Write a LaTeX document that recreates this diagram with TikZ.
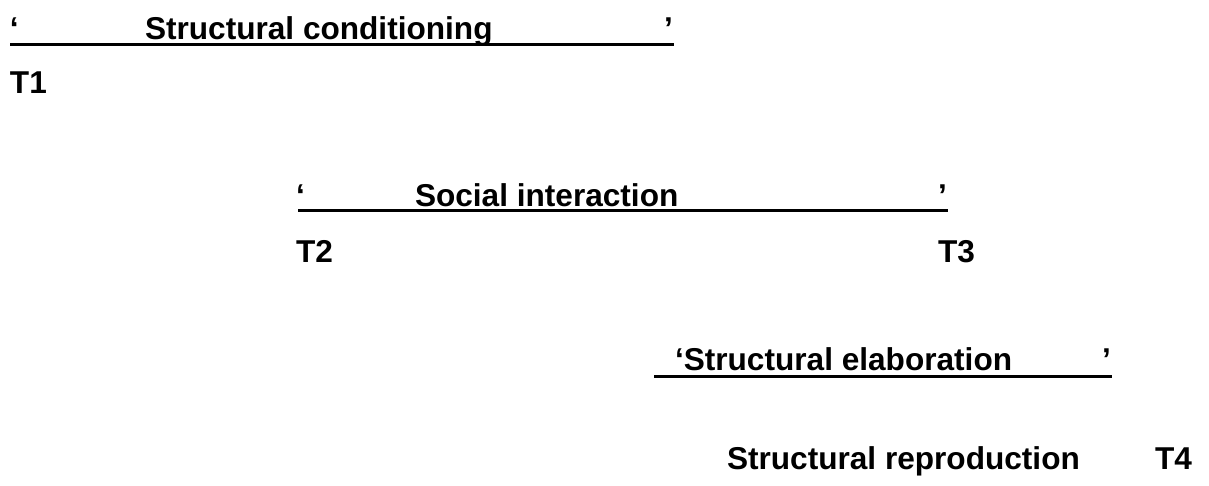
\documentclass[tikz,border=0pt]{standalone}
\usepackage{fontspec}
\setmainfont{Liberation Sans}
\usetikzlibrary{positioning}

\begin{document}
\begin{tikzpicture}[
    x=0.5pt, y=-0.5pt,
    txt/.style={anchor=base west, inner sep=0pt, outer sep=0pt,
                font=\fontsize{15.8}{19}\selectfont\bfseries},
    phase/.style={txt},
    tlabel/.style={txt},
    qmark/.style={txt},
    uline/.style={line width=1.5pt},
]
\useasboundingbox (0,0) rectangle (1209,486);
% structural conditioning
\node[qmark] (q1a) at (10,40) {‘};
\node[phase] (cond) at (145,40) {Structural conditioning};
\node[qmark, anchor=base east] (q1b) at (673,40) {’};
\coordinate (u1a) at (10,45);
\coordinate (u1b) at (674,45);
\draw[uline] (u1a) -- (u1b);
\node[tlabel] (t1) at (10,94) {T1};
% social interaction
\node[qmark] (q2a) at (296,206) {‘};
\node[phase] (inter) at (415,206) {Social interaction};
\node[qmark, anchor=base east] (q2b) at (947,206) {’};
\coordinate (u2a) at (298,211);
\coordinate (u2b) at (948,211);
\draw[uline] (u2a) -- (u2b);
\node[tlabel] (t2) at (296,263) {T2};
\node[tlabel] (t3) at (938,263) {T3};
% structural elaboration
\node[phase] (elab) at (675,370) {‘Structural elaboration};
\node[qmark, anchor=base east] (q3b) at (1111,370) {’};
\coordinate (u3a) at (654,376);
\coordinate (u3b) at (1112,376);
\draw[uline] (u3a) -- (u3b);
% structural reproduction
\node[phase] (repr) at (727,469) {Structural reproduction};
\node[tlabel] (t4) at (1155,469) {T4};
\end{tikzpicture}
\end{document}
